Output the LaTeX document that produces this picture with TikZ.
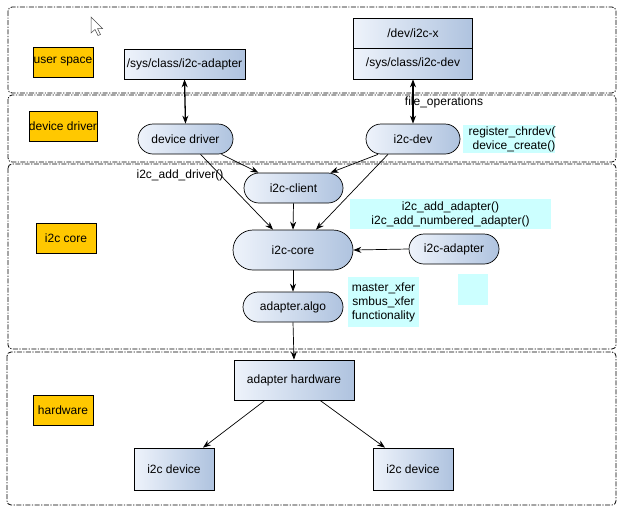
\documentclass[tikz,border=0pt]{standalone}
\usepackage{fontspec}
\setmainfont{Liberation Sans}
\usetikzlibrary{arrows.meta}
\definecolor{labcol}{HTML}{FFC800}
\definecolor{notecol}{HTML}{CCFFFF}
\definecolor{gradl}{HTML}{EEF3FB}
\definecolor{gradr}{HTML}{AFC3DF}
\begin{document}
\begin{tikzpicture}[x=1pt,y=-1pt,
  font=\fontsize{12}{14}\selectfont,
  band/.style={draw=black, dash pattern=on 5pt off 1.5pt on 1.2pt off 1.5pt, rounded corners=4pt, line width=0.8pt},
  lab/.style={draw=black, fill=labcol, inner sep=0pt, minimum width=60pt, minimum height=30pt},
  box/.style={draw=black, line width=0.7pt, left color=gradl, right color=gradr, inner sep=0pt, minimum height=30pt},
  pill/.style={box, rounded corners=15pt},
  note/.style={fill=notecol, inner sep=0pt, align=center},
  arr/.style={-{Stealth[length=8pt,width=6pt]}, line width=0.7pt},
  darr/.style={{Stealth[length=8pt,width=6pt]}-{Stealth[length=8pt,width=6pt]}, line width=1.3pt}]
\useasboundingbox (0,0) rectangle (626,512);
\fill[white] (0,0) rectangle (626,512);
% bands
\draw[band] (8,7) rectangle (616,93);
\draw[band] (8,95) rectangle (616,162);
\draw[band] (8,164) rectangle (616,349);
\draw[band] (7,352) rectangle (616,505);
% layer labels
\node[lab] (lus) at (63,62) {user space};
\node[lab, minimum width=66pt] (ldd) at (63,126.5) {device driver};
\node[lab] (lcore) at (66,238) {i2c core};
\node[lab] (lhw) at (63,410) {hardware};
% cursor
\draw[fill=white, draw=black!70, line width=0.5pt] (91,17) -- (91,33) -- (95,29.5) -- (98,35.5) -- (100.5,34.5) -- (97.5,28.5) -- (102.5,28.5) -- cycle;
% user space nodes
\node[box, minimum width=121pt] (sysadp) at (184.5,64) {/sys/class/i2c-adapter};
\node[box, minimum width=119pt] (devx) at (413,33) {/dev/i2c-x};
\node[box, minimum width=119pt, minimum height=31pt] (sysdev) at (413,63.5) {/sys/class/i2c-dev};
% device driver nodes
\node[pill, minimum width=95pt] (ddrv) at (185.5,139) {device driver};
\node[pill, minimum width=94pt] (i2cdev) at (413,139) {i2c-dev};
\node[note, minimum width=92pt, minimum height=28pt] (regn) at (509,139) {};
\begin{scope}
\clip (regn.south west) rectangle (regn.north east);
\node[inner sep=0pt, align=center] (regt) at (514,139) {register\_chrdev()\\device\_create()};
\end{scope}
\node[inner sep=1pt] (fops) at (444,102) {file\_operations};
% core nodes
\node[pill, minimum width=99pt] (client) at (293.5,188) {i2c-client};
\node[pill, minimum width=120pt, minimum height=40pt, rounded corners=20pt] (core) at (293,250) {i2c-core};
\node[pill, minimum width=100pt] (algo) at (293,307) {adapter.algo};
\node[pill, minimum width=90pt] (adp) at (454,249) {i2c-adapter};
\node[note, minimum width=201pt, minimum height=30pt] (addn) at (450.5,214) {i2c\_add\_adapter()\\i2c\_add\_numbered\_adapter()};
\node[note, minimum width=71pt, minimum height=50pt] (xfer) at (383.5,302) {master\_xfer\\smbus\_xfer\\functionality};
\node[note, minimum width=30pt, minimum height=31pt] (empty) at (473,289.5) {};
\node[inner sep=0pt] (adddrv) at (180,175) {i2c\_add\_driver()};
% hardware nodes
\node[box, minimum width=120pt, minimum height=40pt] (hw) at (294,380) {adapter hardware};
\node[box, minimum width=80pt, minimum height=42pt] (dev1) at (174,469) {i2c device};
\node[box, minimum width=80pt, minimum height=42pt] (dev2) at (413,469) {i2c device};
% connectors
\draw[darr] (sysadp.south) -- (ddrv.north);
\draw[darr] (sysdev.south) -- (i2cdev.north);
\draw[arr] ([xshift=36pt]ddrv.south) -- ([xshift=-35pt]client.north);
\draw[arr] ([xshift=15pt]ddrv.south) -- ([xshift=-20pt]core.north);
\draw[arr] ([xshift=-35pt]i2cdev.south) -- ([xshift=37pt]client.north);
\draw[arr] ([xshift=-25pt]i2cdev.south) -- ([xshift=23pt]core.north);
\draw[arr] (client.south) -- (core.north);
\draw[arr] (adp.west) -- (core.east);
\draw[arr] (core.south) -- (algo.north);
\draw[arr] (algo.south) -- (hw.north);
\draw[arr] ([xshift=-29pt]hw.south) -- ([xshift=29pt]dev1.north);
\draw[arr] ([xshift=26pt]hw.south) -- ([xshift=-28pt]dev2.north);
\end{tikzpicture}
\end{document}
